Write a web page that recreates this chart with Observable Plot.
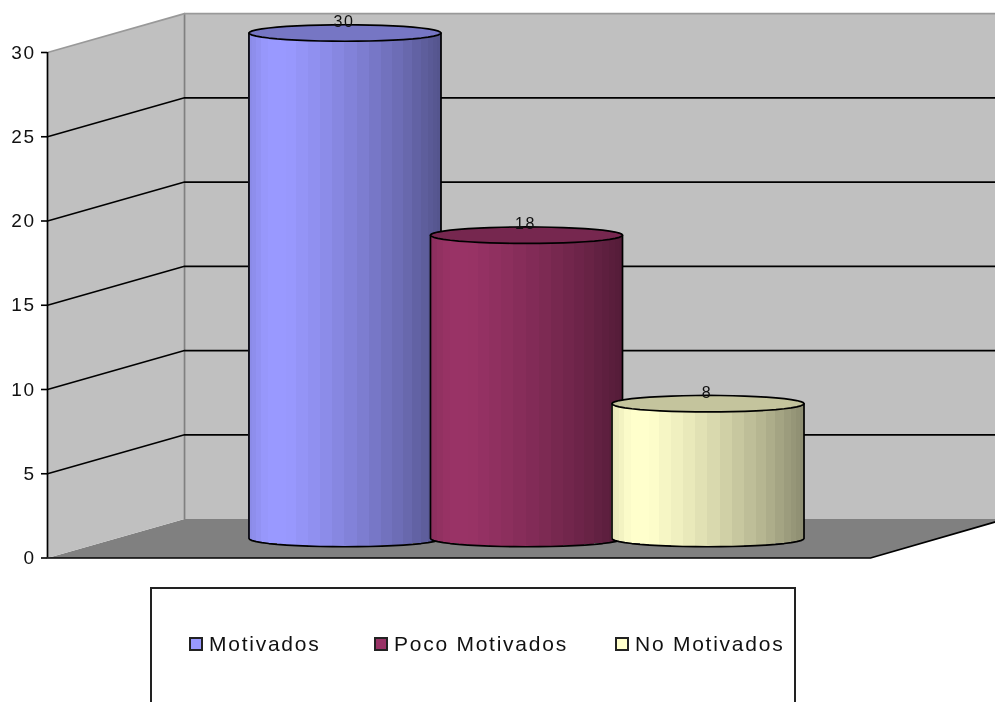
<!DOCTYPE html>
<html>
<head>
<meta charset="utf-8">
<script src="https://cdn.jsdelivr.net/npm/d3@7"></script>
<script src="https://cdn.jsdelivr.net/npm/@observablehq/plot@0.6"></script>
<style>
html,body{margin:0;padding:0;background:#fff;overflow:hidden;width:995px;height:702px}
#chart svg{display:block;filter:blur(.45px)}
#legend{box-sizing:border-box;position:relative;margin:7px 0 0 150px;width:646px;height:130px;border:2px solid #222;background:#fff;font:21px "Liberation Sans",sans-serif;color:#111;filter:blur(.4px)}
#legend .item{position:absolute;top:43px;display:flex;align-items:center;white-space:nowrap;letter-spacing:1.75px}
#legend .swatch{box-sizing:border-box;width:14px;height:14px;border:2px solid #222;margin-right:6px}
</style>
</head>
<body>
<div id="chart"></div>
<div id="legend"></div>
<script>
const categories = ["Motivados", "Poco Motivados", "No Motivados"];
const values = [30, 18, 8];
const baseColors = ["#9999FF", "#993366", "#FFFFCC"];
const yTicks = [0, 5, 10, 15, 20, 25, 30];
const gridTicks = [5, 10, 15, 20, 25];
const legendLefts = [37, 222, 463];

// 3-D frame, in scale units (x: category slots, y: chart values)
const frontX = -1.639, backX = -0.884, floorEndX = 2.895, rightX = 3.584;
const backLift = 2.31, rightFloorLift = 2.14, barLift = 1.157;
const rx = 0.529, ry = 0.49, segments = 24;
const shadeStops = [[0, .9], [.1, 1], [.2, 1], [.5, .87], [.8, .7], [1, .55]];
const topShade = .77;

const shadeAt = d3.scaleLinear(shadeStops.map(d => d[0]), shadeStops.map(d => d[1]));
const shade = (color, f) => {
  const c = d3.rgb(color);
  return d3.rgb(c.r * f, c.g * f, c.b * f).formatHex();
};

const closed = {curve: "linear-closed", stroke: "none", x: "x", y: "y"};
const leftWall = [{x: frontX, y: 0}, {x: backX, y: backLift}, {x: backX, y: 30 + backLift}, {x: frontX, y: 30}];
const backWall = [{x: backX, y: backLift}, {x: rightX, y: backLift}, {x: rightX, y: 30 + backLift}, {x: backX, y: 30 + backLift}];
const floor = [{x: frontX, y: 0}, {x: floorEndX, y: 0}, {x: rightX, y: rightFloorLift}, {x: rightX, y: backLift}, {x: backX, y: backLift}];
const grid = gridTicks.flatMap(v => [
  {t: v, x: frontX, y: v}, {t: v, x: backX, y: v + backLift}, {t: v, x: rightX, y: v + backLift}
]);
const topEdge = [{x: frontX, y: 30}, {x: backX, y: 30 + backLift}, {x: rightX, y: 30 + backLift}];

function cylinder(v, i) {
  const color = baseColors[i], top = v + barLift;
  const thetas = d3.range(segments + 1).map(k => Math.PI * k / segments);
  const px = t => i - rx * Math.cos(t);
  const strips = d3.pairs(thetas).map(([a, b]) => ({
    x1: px(a), x2: px(b),
    y1: barLift - ry * Math.sin((a + b) / 2), y2: top,
    fill: shade(color, shadeAt((px((a + b) / 2) - (i - rx)) / (2 * rx)))
  }));
  const outline = [
    {x: px(0), y: top},
    ...thetas.map(t => ({x: px(t), y: barLift - ry * Math.sin(t)})),
    {x: px(Math.PI), y: top}
  ];
  const cap = d3.range(segments * 2).map(k => {
    const t = Math.PI * k / segments;
    return {x: i + rx * Math.cos(t), y: top + ry * Math.sin(t)};
  });
  return [
    Plot.rect(strips, {x1: "x1", x2: "x2", y1: "y1", y2: "y2", fill: "fill", shapeRendering: "crispEdges"}),
    Plot.line(outline, {x: "x", y: "y", stroke: "#000", strokeWidth: 1.7}),
    Plot.line(cap, {x: "x", y: "y", curve: "linear-closed", fill: shade(color, topShade), stroke: "#000", strokeWidth: 1.7}),
    Plot.text([{x: i, y: top + ry, label: String(v)}], {x: "x", y: "y", text: "label", dy: -3, dx: -1, fontSize: 16, fill: "#111"})
  ];
}

const chart = Plot.plot({
  width: 995,
  height: 580,
  marginLeft: 47, marginRight: 0, marginTop: 0, marginBottom: 0,
  x: {domain: [frontX, rightX], range: [47, 995], axis: null},
  y: {domain: [0, 30], range: [557.5, 52]},
  style: {background: "#fff", fontFamily: "'Liberation Sans',sans-serif", overflow: "visible", letterSpacing: "1.5px"},
  marks: [
    Plot.line(floor, {...closed, fill: "#808080"}),
    Plot.line(leftWall, {...closed, fill: "#C0C0C0"}),
    Plot.line(backWall, {...closed, fill: "#C0C0C0"}),
    Plot.line([{x: backX, y: backLift}, {x: backX, y: 30 + backLift}], {x: "x", y: "y", stroke: "#808080", strokeWidth: 1.7}),
    Plot.line(topEdge, {x: "x", y: "y", stroke: "#999", strokeWidth: 1.7}),
    Plot.line(grid, {x: "x", y: "y", z: "t", stroke: "#000", strokeWidth: 1.6}),
    Plot.ruleX([frontX], {y1: 0, y2: 30, stroke: "#000", strokeWidth: 1.7}),
    Plot.line([{x: frontX, y: 0}, {x: floorEndX, y: 0}, {x: rightX, y: rightFloorLift}], {x: "x", y: "y", stroke: "#000", strokeWidth: 1.7}),
    Plot.axisY(yTicks, {anchor: "left", tickSize: 6, tickPadding: 6, fontSize: 19, label: null, stroke: "#000", strokeWidth: 1.6, fill: "#111"}),
    ...values.flatMap(cylinder)
  ]
});
document.getElementById("chart").append(chart);

const legend = d3.select("#legend");
categories.forEach((name, i) => {
  const item = legend.append("div").attr("class", "item").style("left", legendLefts[i] + "px");
  item.append("span").attr("class", "swatch").style("background", baseColors[i]);
  item.append("span").text(name);
});
</script>
</body>
</html>
